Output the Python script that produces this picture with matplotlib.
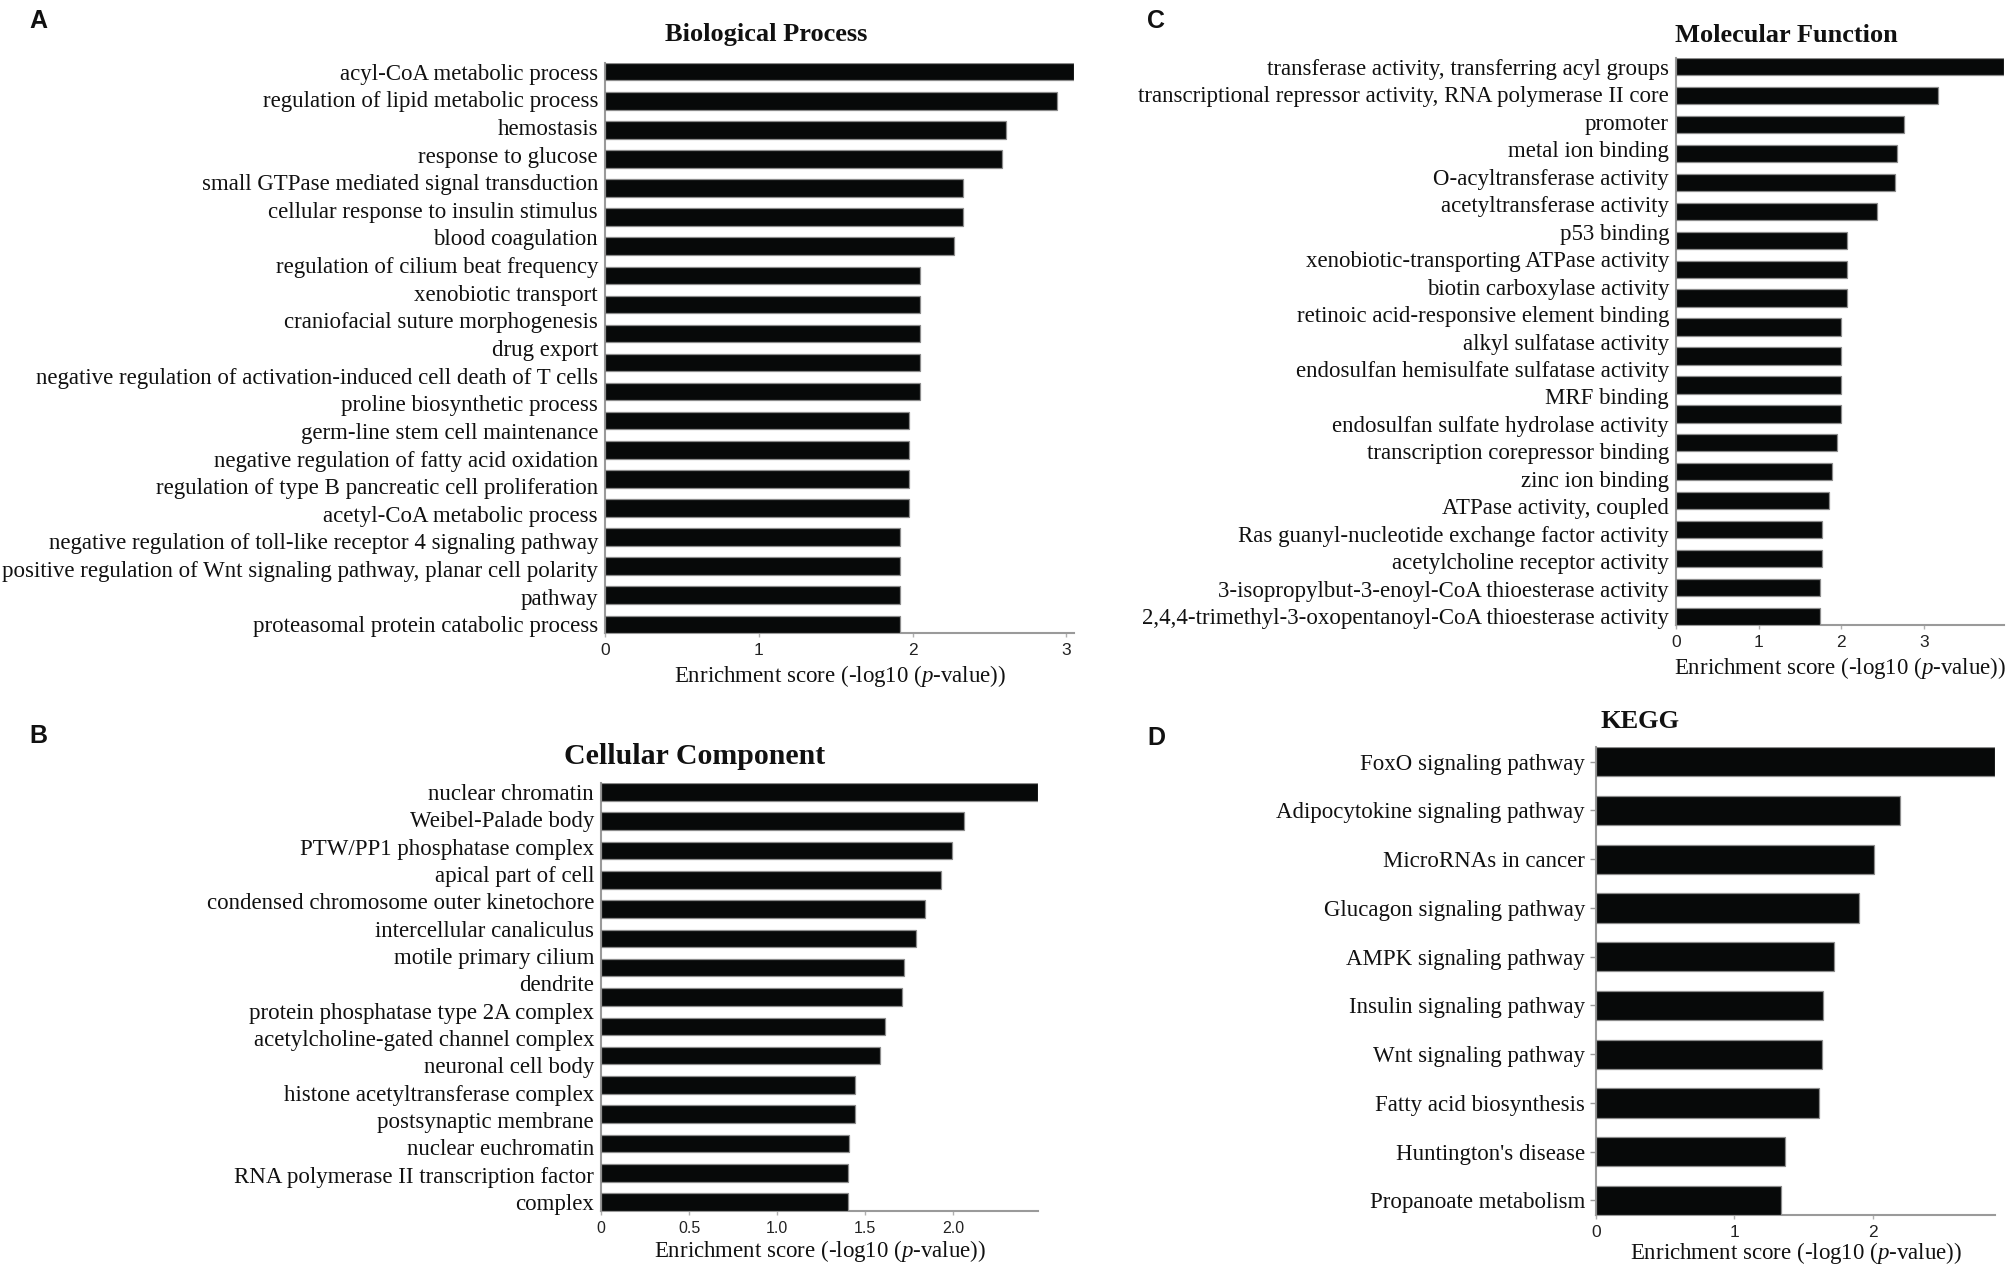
import numpy as np
import matplotlib
matplotlib.use('Agg')
import matplotlib.pyplot as plt

# --- DATA ---

bp_terms = [
    'acyl-CoA metabolic process',
    'regulation of lipid metabolic process',
    'hemostasis',
    'response to glucose',
    'small GTPase mediated signal transduction',
    'cellular response to insulin stimulus',
    'blood coagulation',
    'regulation of cilium beat frequency',
    'xenobiotic transport',
    'craniofacial suture morphogenesis',
    'drug export',
    'negative regulation of activation-induced cell death of T cells',
    'proline biosynthetic process',
    'germ-line stem cell maintenance',
    'negative regulation of fatty acid oxidation',
    'regulation of type B pancreatic cell proliferation',
    'acetyl-CoA metabolic process',
    'negative regulation of toll-like receptor 4 signaling pathway',
    'positive regulation of Wnt signaling pathway, planar cell polarity\npathway',
    'proteasomal protein catabolic process',
]
bp_scores = [3.05, 2.94, 2.61, 2.58, 2.33, 2.33, 2.27, 2.05, 2.05, 2.05,
             2.05, 2.05, 1.98, 1.98, 1.98, 1.98, 1.92, 1.92, 1.92, 1.92]

cc_terms = [
    'nuclear chromatin',
    'Weibel-Palade body',
    'PTW/PP1 phosphatase complex',
    'apical part of cell',
    'condensed chromosome outer kinetochore',
    'intercellular canaliculus',
    'motile primary cilium',
    'dendrite',
    'protein phosphatase type 2A complex',
    'acetylcholine-gated channel complex',
    'neuronal cell body',
    'histone acetyltransferase complex',
    'postsynaptic membrane',
    'nuclear euchromatin',
    'RNA polymerase II transcription factor\ncomplex',
]
cc_scores = [2.48, 2.06, 1.99, 1.93, 1.84, 1.79, 1.72, 1.71, 1.61, 1.585,
             1.44, 1.44, 1.41, 1.40, 1.40]

mf_terms = [
    'transferase activity, transferring acyl groups',
    'transcriptional repressor activity, RNA polymerase II core\npromoter',
    'metal ion binding',
    'O-acyltransferase activity',
    'acetyltransferase activity',
    'p53 binding',
    'xenobiotic-transporting ATPase activity',
    'biotin carboxylase activity',
    'retinoic acid-responsive element binding',
    'alkyl sulfatase activity',
    'endosulfan hemisulfate sulfatase activity',
    'MRF binding',
    'endosulfan sulfate hydrolase activity',
    'transcription corepressor binding',
    'zinc ion binding',
    'ATPase activity, coupled',
    'Ras guanyl-nucleotide exchange factor activity',
    'acetylcholine receptor activity',
    '3-isopropylbut-3-enoyl-CoA thioesterase activity',
    '2,4,4-trimethyl-3-oxopentanoyl-CoA thioesterase activity',
]
mf_scores = [3.97, 3.17, 2.76, 2.68, 2.65, 2.43, 2.07, 2.07, 2.07, 2.00,
             2.00, 2.00, 2.00, 1.95, 1.89, 1.85, 1.77, 1.77, 1.74, 1.74]

kegg_terms = [
    'FoxO signaling pathway',
    'Adipocytokine signaling pathway',
    'MicroRNAs in cancer',
    'Glucagon signaling pathway',
    'AMPK signaling pathway',
    'Insulin signaling pathway',
    'Wnt signaling pathway',
    'Fatty acid biosynthesis',
    "Huntington's disease",
    'Propanoate metabolism',
]
kegg_scores = [2.885, 2.20, 2.01, 1.905, 1.72, 1.64, 1.635, 1.61, 1.37, 1.34]

# --- STYLE ---
SERIF = 'Liberation Serif'
SANS = 'Liberation Sans'
plt.rcParams['mathtext.fontset'] = 'custom'
plt.rcParams['mathtext.rm'] = 'Liberation Serif'
plt.rcParams['mathtext.it'] = 'Liberation Serif:italic'

W, H = 2008, 1266
fig = plt.figure(figsize=(W / 100, H / 100), dpi=100)
fig.patch.set_facecolor('white')


def px_axes(left, top, right, bottom):
    """Axes placed by pixel edges of the reference image."""
    return fig.add_axes([left / W, 1 - bottom / H, (right - left) / W, (bottom - top) / H])


def draw_panel(ax, terms, scores, xticks, xticklabels, tick_size=12.5, ytick_len=0, labelpad=4):
    n = len(scores)
    y = np.arange(n)
    ax.barh(y, scores, height=0.6, color='#070909', edgecolor='#8c8c8c', linewidth=0.9, zorder=3)
    ax.set_ylim(n - 1 + 0.3, -0.3)
    ax.set_xlim(0, max(scores))

    # wrapped labels were laid out as separate, evenly spaced lines
    lines = [ln for t in terms for ln in t.split('\n')]
    ax.set_yticks(np.linspace(0, n - 1, len(lines)))
    ax.set_yticklabels(lines, fontsize=16.5, family=SERIF, color='#111111')

    ax.set_xticks(xticks)
    ax.set_xticklabels(xticklabels, fontsize=tick_size, family=SANS, color='#222222')
    ax.set_xlabel(r'Enrichment score (-log10 ($p$-value))', fontsize=16.5, family=SERIF,
                  color='#111111', labelpad=labelpad)

    for side in ['top', 'right']:
        ax.spines[side].set_visible(False)
    for side in ['left', 'bottom']:
        ax.spines[side].set_color('#9a9a9a')
        ax.spines[side].set_linewidth(1.5)
    ax.tick_params(axis='x', direction='out', length=3, width=1, color='#b0b0b0', pad=4)
    ax.tick_params(axis='y', direction='out', length=ytick_len, width=1, color='#9a9a9a',
                   pad=5 if ytick_len == 0 else 4)


ax_a = px_axes(605, 63, 1074, 633)
draw_panel(ax_a, bp_terms, bp_scores, [0, 1, 2, 3], ['0', '1', '2', '3'])

ax_b = px_axes(601, 783, 1038, 1211)
draw_panel(ax_b, cc_terms, cc_scores, [0, 0.5, 1.0, 1.5, 2.0], ['0', '0.5', '1.0', '1.5', '2.0'],
           tick_size=11.5, labelpad=2)

ax_c = px_axes(1676, 58, 2004, 625)
draw_panel(ax_c, mf_terms, mf_scores, [0, 1, 2, 3], ['0', '1', '2', '3'])

ax_d = px_axes(1596, 747, 1995, 1215)
draw_panel(ax_d, kegg_terms, kegg_scores, [0, 1, 2], ['0', '1', '2'], ytick_len=4, labelpad=0.5)

# --- TITLES AND PANEL LETTERS ---
titles = [('Biological Process', 766, 35, 19), ('Cellular Component', 695, 756, 21.5),
          ('Molecular Function', 1786, 35, 19), ('KEGG', 1640, 722, 19)]
for txt, x, y, size in titles:
    fig.text(x / W, 1 - y / H, txt, ha='center', va='center', fontsize=size,
             fontweight='bold', family=SERIF, color='#111111')

letters = [('A', 38, 21), ('B', 38, 736), ('C', 1156, 21), ('D', 1156, 738)]
for txt, x, y in letters:
    fig.text(x / W, 1 - y / H, txt, ha='center', va='center', fontsize=18,
             fontweight='bold', family=SANS, color='#111111')

fig.savefig('out.png', dpi=100, facecolor='white')
